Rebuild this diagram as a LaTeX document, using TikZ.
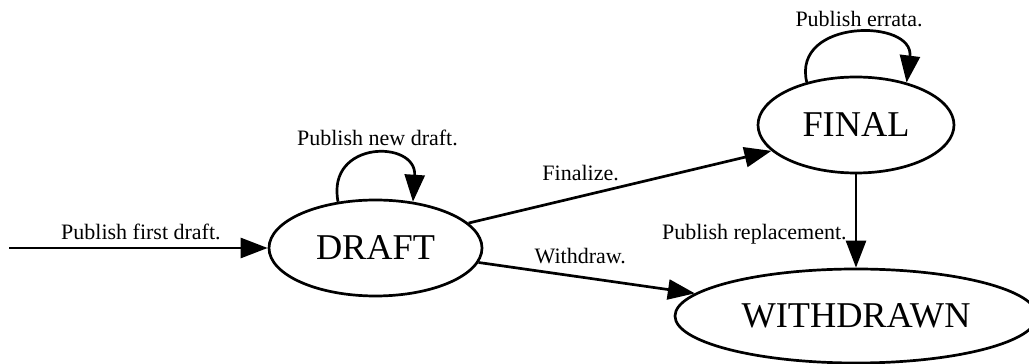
\documentclass[tikz,border=0pt]{standalone}
\usepackage{fontspec}
\setmainfont{Liberation Serif}
\usetikzlibrary{shapes.geometric,arrows.meta}
\tikzset{
  state/.style={ellipse, draw, line width=2.7pt, inner sep=0pt,
    font=\fontsize{36.3}{40}\selectfont},
  lbl/.style={anchor=base, inner sep=0pt, font=\fontsize{22}{26}\selectfont},
  trans/.style={line width=2.7pt, -{Triangle[length=27pt,width=20pt]}}
}
\begin{document}
\begin{tikzpicture}[x=1pt,y=1pt]
      \useasboundingbox (0,0) rectangle (1029,364);
      \draw
        (375.5,116) node[state, minimum width=213pt, minimum height=96pt] (draft){DRAFT}
        (856,239) node[state, minimum width=196pt, minimum height=96pt] (final){FINAL}
        (856,48) node[state, minimum width=362pt, minimum height=94pt] (withdrawn){WITHDRAWN};
      \coordinate (start) at (9,116);
      \begin{scope}[trans]
        \draw (start) -- node[lbl, pos=.51, yshift=8pt]{Publish first draft.} (draft.west);
        \draw (draft.129) .. controls +(-12,62) and +(4,62) .. (draft.51)
          node[lbl, pos=.5, xshift=5pt, yshift=10pt]{Publish new draft.};
        \draw (draft.15) -- node[lbl, pos=.37, yshift=16pt]{Finalize.} (final.197);
        \draw (draft.-8) -- node[lbl, pos=.47, yshift=13.5pt]{Withdraw.} (withdrawn.172);
        \draw (final.139) .. controls +(-15,64) and +(8,64) .. (final.40)
          node[lbl, pos=.5, xshift=5pt, yshift=8pt]{Publish errata.};
        \draw (final.south) -- node[lbl, pos=.7, anchor=base east, xshift=-8pt]{Publish replacement.} (withdrawn.north);
      \end{scope}
    \end{tikzpicture}
\end{document}
